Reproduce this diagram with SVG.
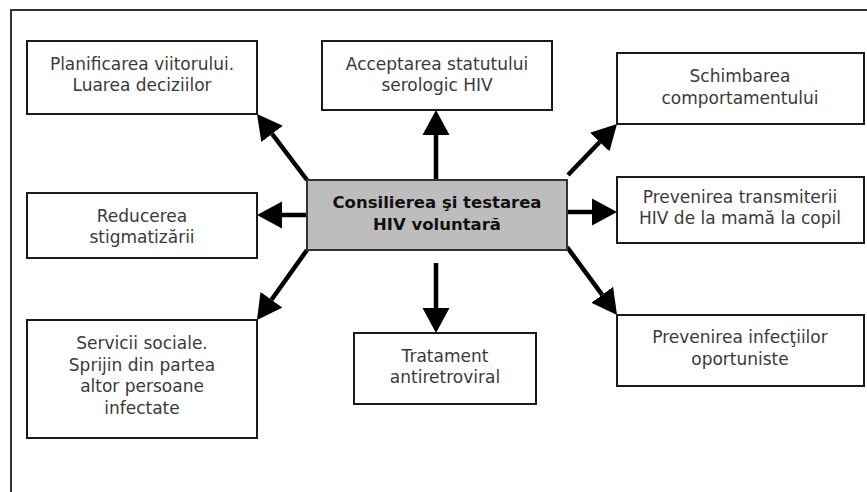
<svg xmlns="http://www.w3.org/2000/svg" width="867" height="492" viewBox="0 0 867 492">
<defs>
<style>
.box{fill:#fff;stroke:#1a1a1a;stroke-width:2}
.center{fill:#bdbdbd;stroke:#333;stroke-width:2}
.t{font-family:"DejaVu Sans",Verdana,sans-serif;font-size:17px;fill:#3a3a3a;text-anchor:middle}
.tb{font-family:"DejaVu Sans",Verdana,sans-serif;font-size:16.5px;font-weight:bold;fill:#111;text-anchor:middle}
.c{stroke:#000;stroke-width:4.5;fill:none;marker-end:url(#ah)}
</style>
<marker id="ah" viewBox="0 -14 25 28" markerUnits="userSpaceOnUse" markerWidth="25" markerHeight="28" refX="0" refY="0" orient="auto">
<path d="M0,-13.5 L25,0 L0,13.5 z" fill="#000"/>
</marker>
</defs>
<rect width="867" height="492" fill="#fff"/>
<rect x="11" y="10" width="870" height="500" fill="none" stroke="#333" stroke-width="2"/>
<g id="connectors">
<line class="c" x1="307" y1="180" x2="272.1" y2="133.9"/>
<line class="c" x1="436" y1="180" x2="436" y2="135"/>
<line class="c" x1="568" y1="175" x2="599.7" y2="142"/>
<line class="c" x1="307" y1="215" x2="282" y2="215"/>
<line class="c" x1="567" y1="212" x2="592" y2="212"/>
<line class="c" x1="307" y1="250" x2="271.5" y2="299.7"/>
<line class="c" x1="436" y1="263" x2="436" y2="308"/>
<line class="c" x1="567" y1="247" x2="602.2" y2="294.8"/>
</g>
<g id="center">
<rect class="center" x="307" y="180" width="260" height="70"/>
<text class="tb" x="437" y="208">Consilierea şi testarea</text>
<text class="tb" x="437" y="230">HIV voluntară</text>
</g>
<g id="planificarea">
<rect class="box" x="27" y="41" width="230" height="73"/>
<text class="t" x="142" y="70">Planificarea viitorului.</text>
<text class="t" x="142" y="91">Luarea deciziilor</text>
</g>
<g id="acceptarea">
<rect class="box" x="322" y="41" width="230" height="69"/>
<text class="t" x="437" y="70">Acceptarea statutului</text>
<text class="t" x="437" y="91">serologic HIV</text>
</g>
<g id="schimbarea">
<rect class="box" x="617" y="53" width="247" height="71"/>
<text class="t" x="740" y="82">Schimbarea</text>
<text class="t" x="740" y="104">comportamentului</text>
</g>
<g id="reducerea">
<rect class="box" x="27" y="193" width="230" height="65"/>
<text class="t" x="142" y="222">Reducerea</text>
<text class="t" x="142" y="243">stigmatizării</text>
</g>
<g id="transmiterii">
<rect class="box" x="617" y="177" width="247" height="66"/>
<text class="t" x="740" y="203">Prevenirea transmiterii</text>
<text class="t" x="740" y="224">HIV de la mamă la copil</text>
</g>
<g id="servicii">
<rect class="box" x="27" y="320" width="230" height="118"/>
<text class="t" x="142" y="349">Servicii sociale.</text>
<text class="t" x="142" y="371">Sprijin din partea</text>
<text class="t" x="142" y="392">altor persoane</text>
<text class="t" x="142" y="414">infectate</text>
</g>
<g id="tratament">
<rect class="box" x="354" y="333" width="182" height="71"/>
<text class="t" x="445" y="362">Tratament</text>
<text class="t" x="445" y="383">antiretroviral</text>
</g>
<g id="infectiilor">
<rect class="box" x="617" y="315" width="247" height="71"/>
<text class="t" x="740" y="343">Prevenirea infecţiilor</text>
<text class="t" x="740" y="365">oportuniste</text>
</g>
</svg>
